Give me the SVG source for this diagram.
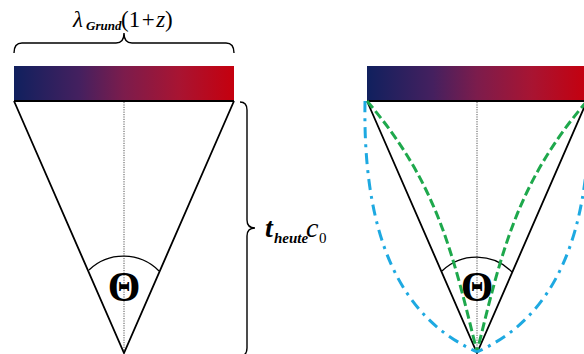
<svg xmlns="http://www.w3.org/2000/svg" width="584" height="354" viewBox="0 0 584 354">
<defs>
<linearGradient id="spec" x1="0" y1="0" x2="1" y2="0">
<stop offset="0" stop-color="#10205e"/>
<stop offset="0.3" stop-color="#45205f"/>
<stop offset="0.5" stop-color="#7c1c4c"/>
<stop offset="0.75" stop-color="#a81432"/>
<stop offset="1" stop-color="#c5000e"/>
</linearGradient>
<style>
.edge{fill:none;stroke:#000;stroke-width:1.8}
.axis{fill:none;stroke:#555;stroke-width:1;stroke-dasharray:1.2 1.2}
.arc{fill:none;stroke:#000;stroke-width:1.3}
.brace{fill:none;stroke:#000;stroke-width:1.4}
.green{fill:none;stroke:#1ea84c;stroke-width:3;stroke-dasharray:9 4}
.cyan{fill:none;stroke:#1ea9e1;stroke-width:3;stroke-dasharray:11 6 3 6}
.serif{font-family:"Liberation Serif","Times New Roman",serif;fill:#000}
.theta{font-family:"Liberation Serif","Times New Roman",serif;font-weight:bold;font-size:42px;text-anchor:middle;fill:#000}
</style>
</defs>
<rect width="584" height="354" fill="#fff"/>

<g id="left-panel">
<rect x="14" y="66" width="220" height="35" fill="url(#spec)"/>
<line x1="14" y1="101" x2="234" y2="101" stroke="#000" stroke-width="2"/>
<line class="axis" x1="124" y1="102" x2="124" y2="354"/>
<path class="edge" d="M14,101 L124,353 L234,101"/>
<path class="arc" d="M89,270 A50,50 0 0 1 159,271"/>
<text class="theta" x="124" y="301">Θ</text>
</g>

<g id="width-label">
<path class="brace" d="M14,53 Q14,43 22,43 L116,43 Q124,43 124,33 Q124,43 132,43 L226,43 Q234,43 234,53"/>
<text class="serif" font-size="23"><tspan x="73" y="27" font-style="italic">λ</tspan><tspan x="86" y="30" font-size="13" font-style="italic" font-weight="bold">Grund</tspan><tspan x="121" y="27">(1</tspan><tspan dx="1.5">+</tspan><tspan dx="1.5" font-style="italic">z</tspan><tspan>)</tspan></text>
</g>

<g id="height-label">
<path class="brace" d="M240,102 Q247,102 247,110 L247,220 Q247,228 255,228 Q247,228 247,236 L247,348 Q247,356 240,356"/>
<text class="serif"><tspan x="265" y="237" font-size="28" font-style="italic" font-weight="bold">t</tspan><tspan x="274" y="243" font-size="15" font-style="italic" font-weight="bold">heute</tspan><tspan x="306" y="237" font-size="28" font-style="italic">c</tspan><tspan x="319" y="243" font-size="15">0</tspan></text>
</g>

<g id="right-panel">
<rect x="367" y="66" width="220" height="35" fill="url(#spec)"/>
<line x1="367" y1="101" x2="587" y2="101" stroke="#000" stroke-width="2"/>
<line class="axis" x1="477" y1="102" x2="477" y2="354"/>
<path class="edge" d="M367,101 L477,353 L587,101"/>
<path class="arc" d="M442,271 A50,50 0 0 1 512,272"/>
<text class="theta" x="477" y="301">Θ</text>
</g>

<g id="connectors">
<path class="green" d="M367,101 C437,183 452.5,252 477,352"/>
<path class="green" d="M587,101 C517,183 501.5,252 477,352"/>
<path class="cyan" d="M365,101 C362,270 422,327 477,352"/>
<path class="cyan" d="M589,101 C592,270 532,327 477,352"/>
</g>
</svg>
